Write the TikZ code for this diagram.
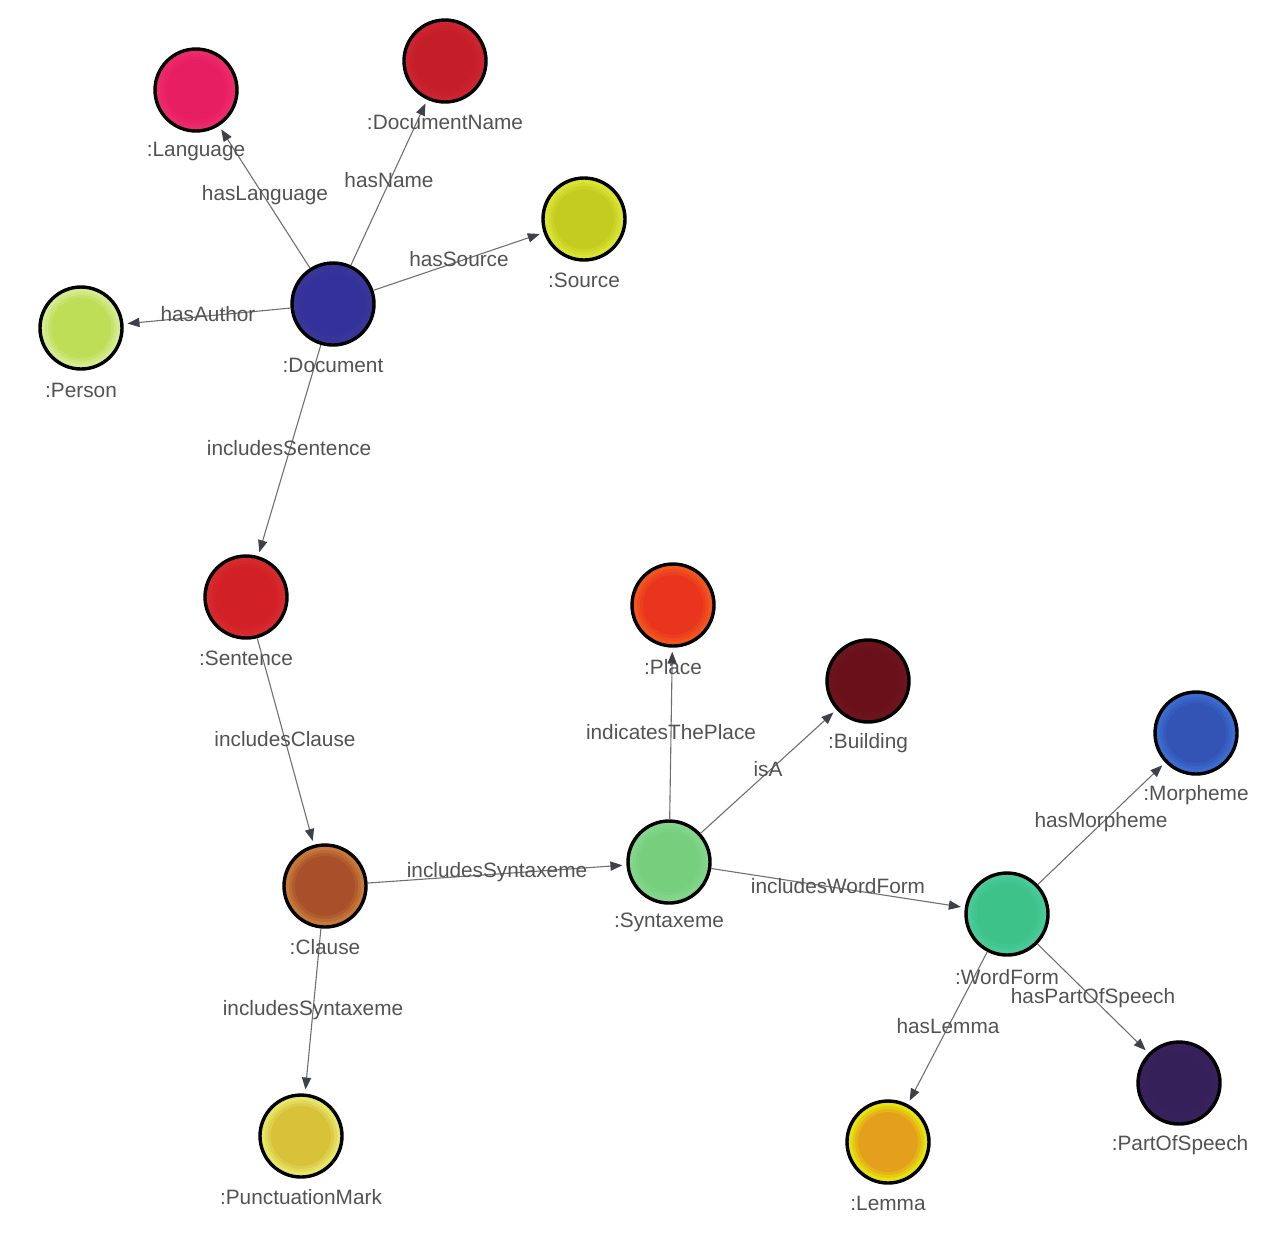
\documentclass[tikz,border=0pt]{standalone}
\usepackage{fontspec}
\setmainfont{Liberation Sans}
\usetikzlibrary{arrows.meta}
\colorlet{ringin}{white}
\colorlet{ringout}{white}
\definecolor{txtgray}{HTML}{525252}
\definecolor{edgegray}{HTML}{707070}
\definecolor{tipgray}{HTML}{3E4248}
\tikzset{
  ent/.style 2 args={circle, draw=black, line width=1.7pt, minimum size=41pt, inner sep=0pt,
    /utils/exec={\definecolor{ringin}{HTML}{#1}\definecolor{ringout}{HTML}{#2}}, fill=ringout,
    path picture={
      \fill[ringin!35!ringout] (path picture bounding box.center) circle (18pt);
      \fill[ringin!70!ringout] (path picture bounding box.center) circle (16.5pt);
      \fill[ringin] (path picture bounding box.center) circle (15pt);}},
  lbl/.style={font=\fontsize{10.4}{12}\selectfont, text=txtgray, inner sep=1pt},
  rel/.style={draw=edgegray, line width=0.55pt, shorten >=2pt,
    -{Triangle[length=6pt,width=4.6pt,color=tipgray]}}
}
\begin{document}
\begin{tikzpicture}[x=0.5pt,y=-0.5pt]
\useasboundingbox (0,0) rectangle (1288,1238);
% entities
\node[ent={E71F62}{EC2A6C}] (lang) at (196,90) {};
\node[ent={C41E28}{CC2430}] (dname) at (445,61) {};
\node[ent={C4CC22}{DAE432}] (src) at (584,219) {};
\node[ent={BEDE58}{D6EC92}] (pers) at (81,328) {};
\node[ent={34329A}{383699}] (doc) at (333,304) {};
\node[ent={D22027}{D62A2C}] (sent) at (246,597) {};
\node[ent={E9351E}{F2561E}] (place) at (673,605) {};
\node[ent={69101A}{6E141C}] (build) at (868,681) {};
\node[ent={3354B4}{3A6CD2}] (morph) at (1196,733) {};
\node[ent={A8502A}{C87838}] (clause) at (325,886) {};
\node[ent={76CF7D}{84D68C}] (synt) at (669,862) {};
\node[ent={3DC28A}{4ACA98}] (wf) at (1007,914) {};
\node[ent={35205A}{38225E}] (pos) at (1179,1083) {};
\node[ent={E4A01C}{E6E40E}] (lemma) at (888,1142) {};
\node[ent={D8C23A}{E8E66A}] (punct) at (301,1136) {};
% relations
\draw[rel] (doc) -- (lang);
\draw[rel] (doc) -- (dname);
\draw[rel] (doc) -- (src);
\draw[rel] (doc) -- (pers);
\draw[rel] (doc) -- (sent);
\draw[rel] (sent) -- (clause);
\draw[rel] (clause) -- (synt);
\draw[rel] (clause) -- (punct);
\draw[rel] (synt) -- (place);
\draw[rel] (synt) -- (build);
\draw[rel] (synt) -- (wf);
\draw[rel] (wf) -- (morph);
\draw[rel] (wf) -- (pos);
\draw[rel] (wf) -- (lemma);
% entity labels
\node[lbl] (langL) at (196,151) {:Language};
\node[lbl] (dnameL) at (445,122) {:DocumentName};
\node[lbl] (srcL) at (584,280) {:Source};
\node[lbl] (persL) at (81,390) {:Person};
\node[lbl] (docL) at (333,365) {:Document};
\node[lbl] (sentL) at (246,658) {:Sentence};
\node[lbl] (placeL) at (673,667) {:Place};
\node[lbl] (buildL) at (868,743) {:Building};
\node[lbl] (morphL) at (1196,795) {:Morpheme};
\node[lbl] (clauseL) at (325,947) {:Clause};
\node[lbl] (syntL) at (669,922) {:Syntaxeme};
\node[lbl] (wfL) at (1007,977) {:WordForm};
\node[lbl] (posL) at (1180,1145) {:PartOfSpeech};
\node[lbl] (lemmaL) at (888,1203) {:Lemma};
\node[lbl] (punctL) at (301,1197) {:PunctuationMark};
% relation labels
\node[lbl] (r1) at (265,195) {hasLanguage};
\node[lbl] (r2) at (389,180) {hasName};
\node[lbl] (r3) at (459,259) {hasSource};
\node[lbl] (r4) at (208,314) {hasAuthor};
\node[lbl] (r5) at (289,448) {includesSentence};
\node[lbl] (r6) at (285,739) {includesClause};
\node[lbl] (r7) at (497,872) {includesSyntaxeme};
\node[lbl] (r8) at (313,1010) {includesSyntaxeme};
\node[lbl] (r9) at (671,732) {indicatesThePlace};
\node[lbl] (r10) at (768,769) {isA};
\node[lbl] (r11) at (838,886) {includesWordForm};
\node[lbl] (r12) at (1101,822) {hasMorpheme};
\node[lbl] (r13) at (1093,998) {hasPartOfSpeech};
\node[lbl] (r14) at (948,1026) {hasLemma};
\end{tikzpicture}
\end{document}
